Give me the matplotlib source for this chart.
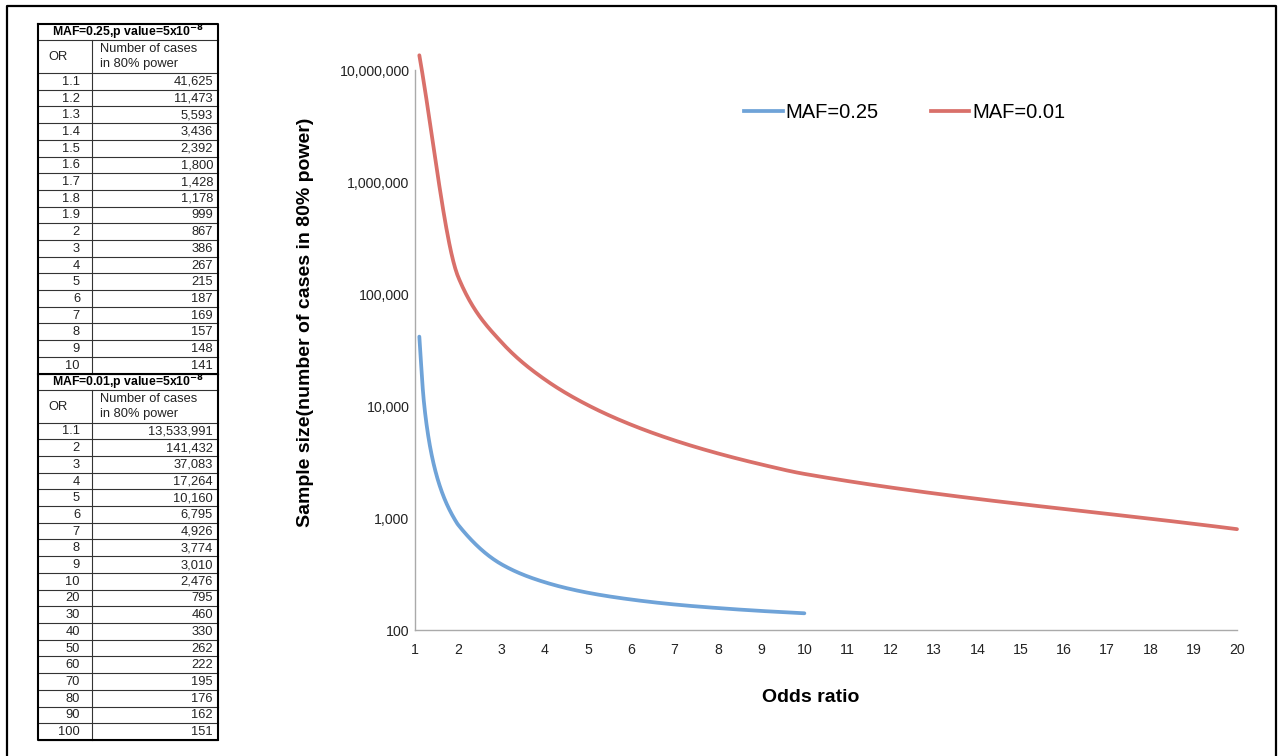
"""Sample size needed for 80% power against odds ratio, for two minor allele frequencies."""

import matplotlib.pyplot as plt
import numpy as np
from matplotlib.lines import Line2D
from matplotlib.ticker import FixedLocator, FuncFormatter

plt.rcParams["font.family"] = ["Liberation Sans", "DejaVu Sans"]

# Table / curve data, MAF=0.25
or_025 = [1.1, 1.2, 1.3, 1.4, 1.5, 1.6, 1.7, 1.8, 1.9, 2, 3, 4, 5, 6, 7, 8, 9, 10]
n_025 = [41625, 11473, 5593, 3436, 2392, 1800, 1428, 1178, 999, 867, 386, 267, 215,
         187, 169, 157, 148, 141]

# Table data, MAF=0.01 (the curve stops at OR=20)
or_001 = [1.1, 2, 3, 4, 5, 6, 7, 8, 9, 10, 20, 30, 40, 50, 60, 70, 80, 90, 100]
n_001 = [13533991, 141432, 37083, 17264, 10160, 6795, 4926, 3774, 3010, 2476, 795,
         460, 330, 262, 222, 195, 176, 162, 151]
OR_MAX_PLOTTED = 20

BLUE = "#6FA3D8"
RED = "#D9706A"

W, H = 1281, 756


def smooth(xs, ys, n=40):
    """Smoothed line through the points: monotone cubic Hermite in (x, log10 y)."""
    x = np.asarray(xs, float)
    y = np.log10(ys)
    h = np.diff(x)
    d = np.diff(y) / h
    m = np.empty_like(x)
    m[0], m[-1] = d[0], d[-1]
    for i in range(1, len(x) - 1):
        if d[i - 1] * d[i] <= 0:
            m[i] = 0.0
        else:
            w1 = 2 * h[i] + h[i - 1]
            w2 = h[i] + 2 * h[i - 1]
            m[i] = (w1 + w2) / (w1 / d[i - 1] + w2 / d[i])
    px, py = [], []
    for i in range(len(x) - 1):
        t = np.linspace(0, 1, n)
        if i > 0:
            t = t[1:]
        h00 = 2 * t ** 3 - 3 * t ** 2 + 1
        h10 = t ** 3 - 2 * t ** 2 + t
        h01 = -2 * t ** 3 + 3 * t ** 2
        h11 = t ** 3 - t ** 2
        px.append(x[i] + t * h[i])
        py.append(h00 * y[i] + h10 * h[i] * m[i] + h01 * y[i + 1] + h11 * h[i] * m[i + 1])
    return np.concatenate(px), 10 ** np.concatenate(py)


fig = plt.figure(figsize=(W / 100, H / 100), dpi=100)

# chart
ax = fig.add_axes([415 / W, 1 - 630 / H, (1237 - 415) / W, (630 - 70) / H])
bx, by = smooth(or_025, n_025)
ax.plot(bx, by, color=BLUE, lw=2.7, solid_capstyle="round", clip_on=False)
keep = [i for i, o in enumerate(or_001) if o <= OR_MAX_PLOTTED]
rx, ry = smooth([or_001[i] for i in keep], [n_001[i] for i in keep])
ax.plot(rx, ry, color=RED, lw=2.7, solid_capstyle="round", clip_on=False)

ax.set_yscale("log")
ax.set_xlim(1, 20)
ax.set_ylim(100, 1e7)
ax.xaxis.set_major_locator(FixedLocator(range(1, 21)))
ax.yaxis.set_major_locator(FixedLocator([1e2, 1e3, 1e4, 1e5, 1e6, 1e7]))
ax.yaxis.set_minor_locator(FixedLocator([]))
ax.yaxis.set_major_formatter(FuncFormatter(lambda v, _: f"{v:,.0f}"))
ax.tick_params(length=0, labelsize=10.2, colors="#222222")
ax.tick_params(axis="y", pad=4)
ax.tick_params(axis="x", pad=9)
for side in ("top", "right"):
    ax.spines[side].set_visible(False)
for side in ("left", "bottom"):
    ax.spines[side].set_color("#AAAAAA")
    ax.spines[side].set_linewidth(1.0)

fig.text(305 / W, 1 - 322 / H, "Sample size(number of cases in 80% power)", rotation=90,
         ha="center", va="center", fontsize=14, fontweight="bold")
fig.text(811 / W, 1 - 697 / H, "Odds ratio", ha="center", va="center", fontsize=14,
         fontweight="bold")

handles = [Line2D([], [], color=BLUE, lw=2.7), Line2D([], [], color=RED, lw=2.7)]
fig.legend(handles, ["MAF=0.25", "MAF=0.01"], loc="center", ncol=2, frameon=False,
           bbox_to_anchor=(905 / W, 1 - 113 / H), fontsize=14.5, handlelength=1.9,
           handletextpad=0.15, columnspacing=2.6)

# table on the left, drawn in pixel coordinates
tab = fig.add_axes([0, 0, 1, 1])
tab.set_xlim(0, W)
tab.set_ylim(H, 0)
tab.axis("off")

x0, xdiv, x1 = 38, 92, 218
row_h = 16.7
FS = 9.3


def draw_block(top, maf, ors, ns):
    tab.text((x0 + x1) / 2, top + 8.5, rf"MAF={maf},p value=5x10$^{{\mathbf{{-8}}}}$",
             ha="center", va="center", fontsize=8.8, fontweight="bold")
    tab.plot([x0, x1], [top + 16, top + 16], color="#333333", lw=0.8)
    h2 = top + 16
    tab.text(48, h2 + 17, "OR", ha="left", va="center", fontsize=FS, color="#222222")
    tab.text(100, h2 + 9, "Number of cases", ha="left", va="center", fontsize=FS,
             color="#222222")
    tab.text(100, h2 + 24, "in 80% power", ha="left", va="center", fontsize=FS,
             color="#222222")
    y = h2 + 33
    tab.plot([x0, x1], [y, y], color="#333333", lw=0.8)
    for o, n in zip(ors, ns):
        tab.text(80, y + row_h / 2 + 0.5, f"{o:g}", ha="right", va="center", fontsize=FS,
                 color="#222222")
        tab.text(213, y + row_h / 2 + 0.5, f"{n:,}", ha="right", va="center", fontsize=FS,
                 color="#222222")
        y += row_h
        tab.plot([x0, x1], [y, y], color="#333333", lw=0.8)
    tab.plot([xdiv, xdiv], [h2, y], color="#333333", lw=0.8)
    return y


bottom1 = draw_block(24, "0.25", or_025, n_025)
tab.plot([x0, x1], [bottom1, bottom1], color="black", lw=1.5)
bottom2 = draw_block(bottom1, "0.01", or_001, n_001)
tab.plot([x0, x1, x1, x0, x0], [24, 24, bottom2, bottom2, 24], color="black", lw=1.5)

# figure frame (left, top, right)
tab.plot([7, 7, 1276, 1276], [H + 5, 6, 6, H + 5], color="black", lw=1.6, clip_on=False)

fig.savefig("out.png", dpi=100)
